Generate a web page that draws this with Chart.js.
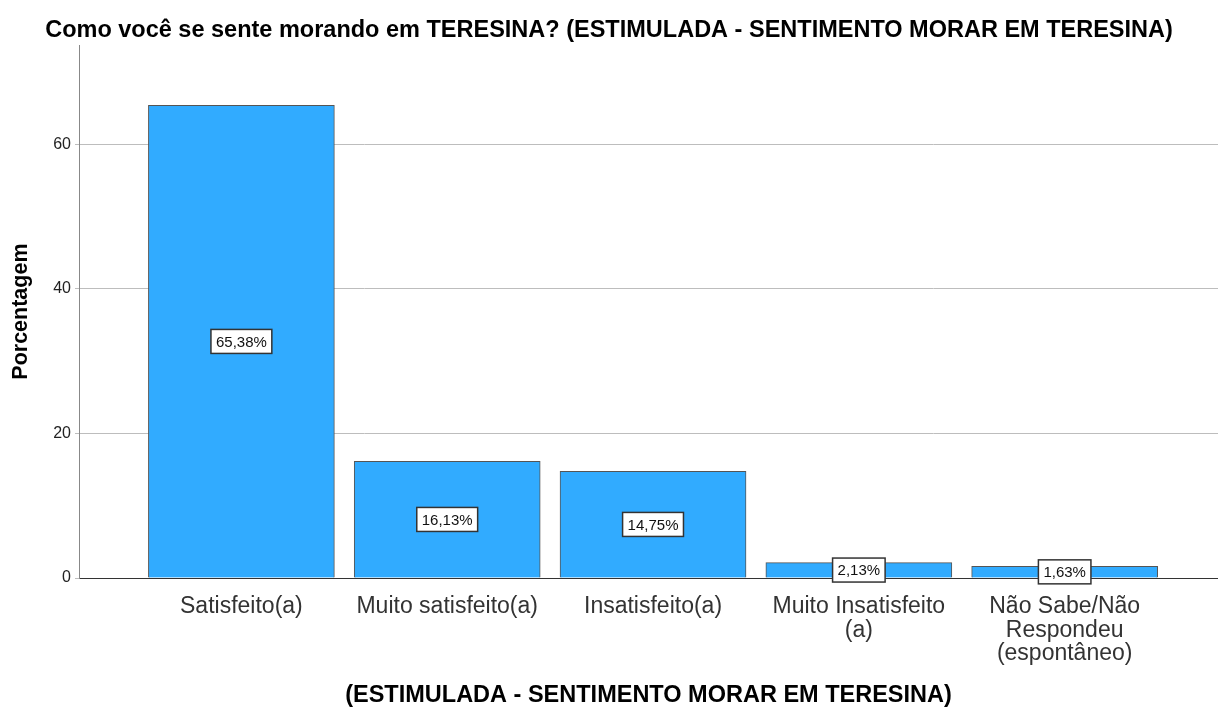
<!DOCTYPE html>
<html>
<head>
<meta charset="utf-8">
<script src="https://cdn.jsdelivr.net/npm/chart.js@4"></script>
<style>
  html, body { margin: 0; padding: 0; background: #fff; }
  #wrap { width: 1218px; height: 708px; position: relative; }
</style>
</head>
<body>
<div id="wrap"><canvas id="sentimentoChart"></canvas></div>
<script>
// Data
const categories = [
    'Satisfeito(a)',
    'Muito satisfeito(a)',
    'Insatisfeito(a)',
    ['Muito Insatisfeito', '(a)'],
    ['Não Sabe/Não', 'Respondeu', '(espontâneo)']
];
const percentages = [65.38, 16.13, 14.75, 2.13, 1.63];
const yTicks = [0, 20, 40, 60];

const FONT = "'Liberation Sans', Arial, sans-serif";

// White boxed value labels in the middle of each bar
const boxLabels = {
    id: 'boxLabels',
    afterDatasetsDraw(chart) {
        const ctx = chart.ctx;
        const meta = chart.getDatasetMeta(0);
        ctx.save();
        ctx.font = '15px ' + FONT;
        ctx.textAlign = 'center';
        ctx.textBaseline = 'middle';
        meta.data.forEach((bar, i) => {
            const txt = percentages[i].toFixed(2).replace('.', ',') + '%';
            const w = ctx.measureText(txt).width + 10;
            const h = 24;
            const cx = bar.x;
            const cy = (bar.y + bar.base) / 2;
            ctx.fillStyle = '#fff';
            ctx.fillRect(cx - w / 2, cy - h / 2, w, h);
            ctx.strokeStyle = '#333';
            ctx.lineWidth = 1.5;
            ctx.strokeRect(cx - w / 2, cy - h / 2, w, h);
            ctx.fillStyle = '#111';
            ctx.fillText(txt, cx, cy + 1);
        });
        ctx.restore();
    }
};

const ctx = document.getElementById('sentimentoChart').getContext('2d');
const sentimentoChart = new Chart(ctx, {
    type: 'bar',
    data: {
        datasets: [{
            data: percentages.map((v, i) => ({ x: i, y: v })),
            backgroundColor: '#31abff',
            borderColor: '#555',
            borderWidth: 1,
            barThickness: 186
        }]
    },
    plugins: [boxLabels],
    options: {
        responsive: true,
        maintainAspectRatio: false,
        animation: false,
        layout: { padding: 0 },
        plugins: {
            legend: { display: false },
            tooltip: { enabled: false },
            title: {
                display: true,
                text: 'Como você se sente morando em TERESINA? (ESTIMULADA - SENTIMENTO MORAR EM TERESINA)',
                color: '#000',
                font: { family: FONT, size: 23.5, weight: 'bold' },
                padding: { top: 16, bottom: 1 }
            }
        },
        scales: {
            x: {
                type: 'linear',
                offset: false,
                min: -0.789,
                max: 4.745,
                afterBuildTicks: (axis) => {
                    axis.ticks = categories.map((c, i) => ({ value: i }));
                },
                afterFit: (scale) => { scale.height = 130; },
                grid: { display: false, drawTicks: false, offset: false },
                border: { display: true, color: '#333', width: 1 },
                ticks: {
                    autoSkip: false,
                    maxRotation: 0,
                    padding: 17,
                    color: '#333',
                    font: { family: FONT, size: 23, lineHeight: 1.02 },
                    callback: (value) => categories[value]
                },
                title: {
                    display: true,
                    text: '(ESTIMULADA - SENTIMENTO MORAR EM TERESINA)',
                    color: '#000',
                    font: { family: FONT, size: 23.5, weight: 'bold' },
                    padding: { top: 0, bottom: -2 }
                }
            },
            y: {
                min: 0,
                max: 73.7,
                afterFit: (scale) => { scale.width = 79; },
                afterBuildTicks: (axis) => {
                    axis.ticks = yTicks.map(v => ({ value: v }));
                },
                grid: { color: '#bdbdbd', drawTicks: true, tickLength: 4 },
                border: { display: true, color: '#888', width: 1 },
                ticks: {
                    color: '#222',
                    padding: 4,
                    font: { family: FONT, size: 16 }
                },
                title: {
                    display: true,
                    text: 'Porcentagem',
                    color: '#000',
                    font: { family: FONT, size: 21.5, weight: 'bold' },
                    padding: { top: 8, bottom: 0 }
                }
            }
        }
    }
});
</script>
</body>
</html>
